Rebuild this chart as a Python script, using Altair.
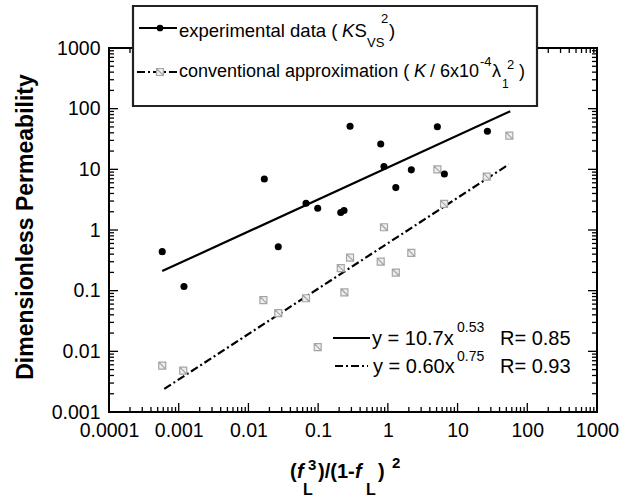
import altair as alt
import pandas as pd

FONT = "Liberation Sans"

# ---- data ----
exp_x = [0.00058, 0.00119, 0.0169, 0.0268, 0.067, 0.0986, 0.211, 0.235, 0.287,
         0.79, 0.88, 1.30, 2.17, 5.13, 6.47, 26.8]
exp_y = [0.44, 0.117, 6.95, 0.53, 2.76, 2.29, 1.94, 2.09, 51.3,
         26.2, 11.1, 5.0, 9.8, 50.4, 8.4, 42.5]

conv_x = [0.00058, 0.00116, 0.0164, 0.0268, 0.067, 0.0986, 0.211, 0.238, 0.287,
          0.79, 0.88, 1.30, 2.17, 5.13, 6.4, 26.2, 55.3]
conv_y = [0.0058, 0.0048, 0.070, 0.0426, 0.075, 0.0117, 0.235, 0.094, 0.35,
          0.30, 1.11, 0.199, 0.42, 10.0, 2.69, 7.6, 35.9]

# fitted power-law lines (straight on log-log), end points
fit_exp_x = [0.00058, 57.0]
fit_exp_y = [0.21, 91.0]
fit_conv_x = [0.00062, 54.0]
fit_conv_y = [0.0024, 12.0]

x_major = [1e-4, 1e-3, 1e-2, 1e-1, 1, 10, 100, 1000]
y_major = [1e-3, 1e-2, 1e-1, 1, 10, 100, 1000]
minor_mult = [2, 3, 4, 5, 6, 7, 8, 9]

# ---- layout ----
W, H = 488, 364
PL, PT = 109, 48
MAJ, MIN = 9, 5
DASHDOT = [8, 3, 2, 3]

xs = alt.Scale(type="log", domain=[1e-4, 1e3])
ys = alt.Scale(type="log", domain=[1e-3, 1e3])
xa = alt.Axis(values=x_major, format="~g", labelFontSize=19.5, labelFont=FONT,
              labelColor="black", labelPadding=9, ticks=False, domain=False,
              grid=False, title=None, labelFlush=False, labelOverlap=False)
ya = alt.Axis(values=y_major, format="~g", labelFontSize=19.5, labelFont=FONT,
              labelColor="black", labelPadding=9, ticks=False, domain=False,
              grid=False, title=None, labelFlush=False, labelOverlap=False)

x_minor = [m * d for d in x_major[:-1] for m in minor_mult]
y_minor = [m * d for d in y_major[:-1] for m in minor_mult]

layers = []

def yticks(vals, ln):
    base = alt.Chart(pd.DataFrame({"v": vals}))
    enc = dict(y=alt.Y("v:Q", scale=ys, axis=ya))
    left = base.mark_rule(color="black", strokeWidth=1.3).encode(
        x=alt.value(0), x2=alt.value(ln), **enc)
    right = base.mark_rule(color="black", strokeWidth=1.3).encode(
        x=alt.value(W - ln), x2=alt.value(W), **enc)
    return [left, right]

def xticks(vals, ln):
    base = alt.Chart(pd.DataFrame({"v": vals}))
    enc = dict(x=alt.X("v:Q", scale=xs, axis=xa))
    bottom = base.mark_rule(color="black", strokeWidth=1.3).encode(
        y=alt.value(H - ln), y2=alt.value(H), **enc)
    top = base.mark_rule(color="black", strokeWidth=1.3).encode(
        y=alt.value(0), y2=alt.value(ln), **enc)
    return [bottom, top]

layers += yticks(y_major, MAJ) + yticks(y_minor, MIN)
layers += xticks(x_major, MAJ) + xticks(x_minor, MIN)

fit_exp = pd.DataFrame({"x": fit_exp_x, "y": fit_exp_y})
fit_conv = pd.DataFrame({"x": fit_conv_x, "y": fit_conv_y})
layers.append(alt.Chart(fit_conv).mark_line(color="black", strokeWidth=2.2,
                                            strokeDash=DASHDOT).encode(
    x=alt.X("x:Q", scale=xs, axis=xa), y=alt.Y("y:Q", scale=ys, axis=ya)))
layers.append(alt.Chart(fit_exp).mark_line(color="black", strokeWidth=2.2).encode(
    x=alt.X("x:Q", scale=xs, axis=xa), y=alt.Y("y:Q", scale=ys, axis=ya)))

SQ = "M-1,-1L1,-1L1,1L-1,1Z M-1,-1L1,1"
conv = pd.DataFrame({"x": conv_x, "y": conv_y})
exp = pd.DataFrame({"x": exp_x, "y": exp_y})
layers.append(alt.Chart(conv).mark_point(shape=SQ, size=49, filled=True, fill="#eeeeee",
                                         stroke="#a5a5a5", strokeWidth=1.2, opacity=1).encode(
    x=alt.X("x:Q", scale=xs, axis=xa), y=alt.Y("y:Q", scale=ys, axis=ya)))
layers.append(alt.Chart(exp).mark_point(shape="circle", size=50, filled=True,
                                        color="black", opacity=1).encode(
    x=alt.X("x:Q", scale=xs, axis=xa), y=alt.Y("y:Q", scale=ys, axis=ya)))

one = pd.DataFrame({"a": [0]})

def P(px, py):
    return dict(x=alt.value(px - PL), y=alt.value(py - PT))

def T(s, px, py, size=18, style="normal", weight="normal", angle=0, align="left"):
    return alt.Chart(one).mark_text(text=s, font=FONT, fontSize=size, fontStyle=style,
                                    fontWeight=weight, angle=angle, align=align,
                                    baseline="alphabetic", color="black").encode(**P(px, py))

def HR(x1, x2, py, dash=None):
    kw = dict(color="black", strokeWidth=2)
    if dash:
        kw["strokeDash"] = dash
    return alt.Chart(one).mark_rule(**kw).encode(
        x=alt.value(x1 - PL), x2=alt.value(x2 - PL), y=alt.value(py - PT))

# legend box
layers.append(alt.Chart(one).mark_rect(fill="white", stroke="#222222", strokeWidth=2.2).encode(
    x=alt.value(133 - PL), x2=alt.value(537 - PL), y=alt.value(6 - PT), y2=alt.value(106 - PT)))
layers.append(HR(139, 177, 28))
layers.append(alt.Chart(one).mark_point(shape="circle", size=45, filled=True,
                                        color="black", opacity=1).encode(**P(160, 28)))
layers.append(HR(137, 177, 72, DASHDOT))
layers.append(alt.Chart(one).mark_point(shape=SQ, size=49, filled=True, fill="#eeeeee",
                                        stroke="#a5a5a5", strokeWidth=1.2, opacity=1).encode(**P(160, 72)))

# legend row 1
layers += [
    T("experimental data (", 179, 36.5, size=18.5),
    T("K", 342, 36.5, size=18.5, style="italic"),
    T("S", 354.5, 36.5, size=18.5),
    T("VS", 367, 46.5, size=13),
    T("2", 381, 23, size=13),
    T(")", 389, 36.5, size=18.5),
]
# legend row 2
layers += [
    T("conventional approximation (", 179, 77),
    T("K", 414, 77, style="italic"),
    T("/ 6x10", 430, 77),
    T("-4", 480, 66, size=13),
    T("\u03bb", 492, 77),
    T("1", 502, 88, size=12),
    T("2", 507, 69, size=13),
    T(")", 519, 77),
]

# fit annotation
layers += [
    HR(333, 370, 338),
    T("y = 10.7x", 372, 344.5, size=20),
    T("0.53", 457, 332, size=14),
    T("R= 0.85", 500, 344.5, size=20),
    HR(335, 368, 366, DASHDOT),
    T("y = 0.60x", 373, 373, size=20),
    T("0.75", 457, 361, size=14),
    T("R= 0.93", 500, 373, size=20),
]

# axis titles
layers.append(T("Dimensionless Permeability", 33, 227, size=23, weight="bold", angle=270,
                align="center"))
layers += [
    T("(", 290, 478, size=20, weight="bold"),
    T("f", 297, 478, size=20, weight="bold", style="italic"),
    T("L", 303, 495, size=16, weight="bold"),
    T("3", 308, 470, size=15, weight="bold"),
    T(")/(1-", 318, 478, size=20, weight="bold"),
    T("f", 355, 478, size=20, weight="bold", style="italic"),
    T("L", 366, 495, size=16, weight="bold"),
    T(")", 378, 478, size=20, weight="bold"),
    T("2", 392, 468, size=15, weight="bold"),
]

chart = alt.layer(*layers).properties(
    width=W, height=H,
    padding={"left": PL, "top": PT, "right": 623 - PL - W, "bottom": 497 - PT - H},
    autosize=alt.AutoSizeParams(type="none"),
).configure_view(stroke="black", strokeWidth=2)

chart.save("out.html", embed_options={"renderer": "svg", "actions": False})
